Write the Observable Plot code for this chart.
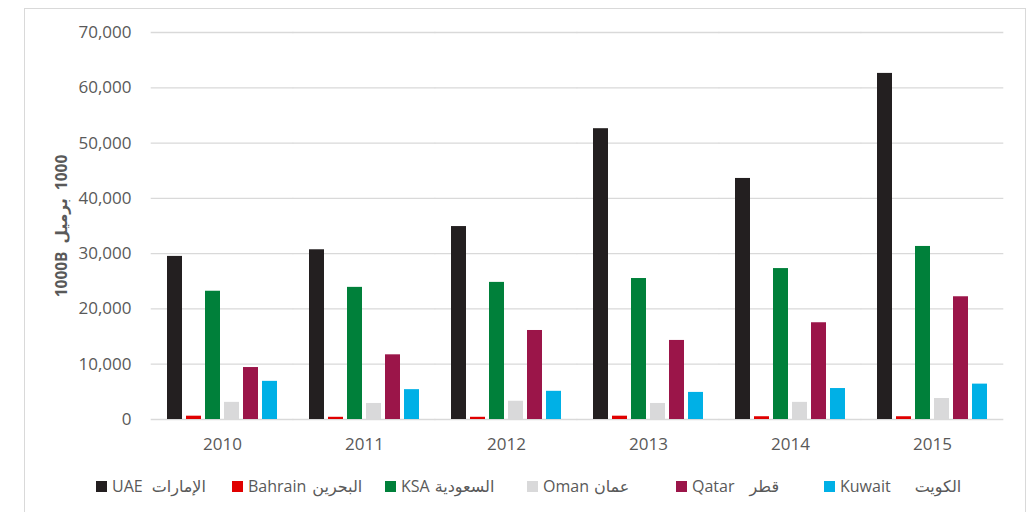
<!DOCTYPE html>
<html><head><meta charset="utf-8">
<script src="https://cdn.jsdelivr.net/npm/d3@7"></script>
<script src="https://cdn.jsdelivr.net/npm/@observablehq/plot@0.6"></script>
<style>
html,body{margin:0;padding:0;background:#fff;}
body{width:1032px;height:512px;overflow:hidden;position:relative;font-family:"Open Sans","DejaVu Sans",sans-serif;}
#frame{position:absolute;left:24px;top:8px;width:1002px;height:520px;border:1px solid #d9d9d9;box-sizing:border-box;}
#chart{position:absolute;left:24px;top:8px;}
.li{position:absolute;top:476px;font-size:16px;color:#595959;white-space:pre;line-height:20px;display:flex;align-items:center;}
.sw{display:inline-block;width:11px;height:11px;margin-right:5px;}
.ar{font-size:16px;}
</style></head>
<body>
<div id="frame"></div>
<div id="chart"></div>
<div id="legend"></div>
<script>
const years = ["2010","2011","2012","2013","2014","2015"];
const countries = ["UAE","Bahrain","KSA","Oman","Qatar","Kuwait"];
const countriesAr = ["الإمارات","البحرين","السعودية","عمان","قطر","الكويت"];
const colors = ["#231f20","#e00000","#00803a","#d9d9da","#9b1549","#00b0e6"];
const uae     = [29500, 30700, 34900, 52600, 43600, 62600];
const bahrain = [600, 400, 400, 600, 500, 500];
const ksa     = [23200, 23900, 24800, 25500, 27300, 31300];
const oman    = [3100, 2900, 3300, 2900, 3100, 3800];
const qatar   = [9400, 11700, 16100, 14300, 17500, 22200];
const kuwait  = [6900, 5400, 5100, 4900, 5600, 6400];
const yTicks = [0,10000,20000,30000,40000,50000,60000,70000];
const yTitle = "1000B  برميل\u200E  1000";

const series = [uae, bahrain, ksa, oman, qatar, kuwait];
const data = years.flatMap((y,i) => countries.map((c,j) => ({year:y, country:c, value:series[j][i]})));

const chart = Plot.plot({
  width: 1003, height: 452,
  marginLeft: 124, marginRight: 22, marginTop: 24, marginBottom: 41,
  style: {fontFamily: '"Open Sans","DejaVu Sans",sans-serif', fontSize: "17px", color: "#595959", background: "transparent"},
  fx: {domain: years, paddingInner: 0.2, paddingOuter: 0.1, label: null},
  x: {domain: countries, paddingInner: 0.2, paddingOuter: 0.05, axis: null},
  y: {domain: [0,70000], label: null},
  color: {domain: countries, range: colors},
  marks: [
    Plot.gridY(yTicks, {stroke: "#d9d9d9", strokeOpacity: 1, strokeWidth: 1.3, insetLeft: -14.3, insetRight: -14.3}),
    Plot.barY(data, {fx: "year", x: "country", y: "value", fill: "country"}),
    Plot.axisFx({anchor: "bottom", tickSize: 0, tickPadding: 18, fontSize: 17, fill: "#595959", label: null}),
    Plot.axisY(yTicks, {tickSize: 0, tickPadding: 34, tickFormat: d3.format(","), fontSize: 17, fill: "#595959",
      label: yTitle, labelArrow: "none", labelAnchor: "center", labelOffset: 110})
  ]
});
document.getElementById("chart").appendChild(chart);
// style y title
d3.select(chart).selectAll("[aria-label='y-axis label'] text, [aria-label='y-axis label']")
  .attr("font-weight", "bold").attr("font-size", 15.5).attr("fill", "#595959");

const leg = document.getElementById("legend");
const legX = [96, 232, 385, 527, 676, 824];
const arGap = [9, 6, 5, 5, 15, 24];
countries.forEach((c,i) => {
  const d = document.createElement("div");
  d.className = "li";
  d.style.left = legX[i] + "px";
  const s = document.createElement("span");
  s.className = "sw"; s.style.background = colors[i];
  d.appendChild(s);
  const t = document.createElement("span");
  t.textContent = c;
  d.appendChild(t);
  const a = document.createElement("span");
  a.className = "ar"; a.style.marginLeft = arGap[i] + "px";
  a.textContent = countriesAr[i];
  d.appendChild(a);
  leg.appendChild(d);
});
</script>
</body></html>
